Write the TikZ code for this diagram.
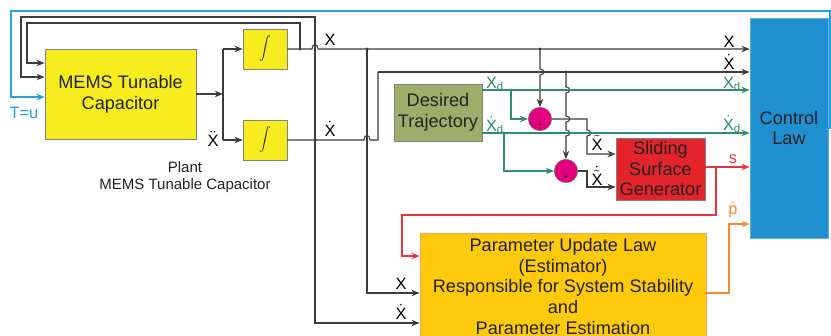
\documentclass[tikz,border=0pt]{standalone}
\usepackage{fontspec}
\setmainfont{Liberation Sans}
\setsansfont{Liberation Sans}
\usetikzlibrary{arrows.meta}
\definecolor{memsy}{RGB}{246,236,30}
\definecolor{olive}{RGB}{157,174,106}
\definecolor{slred}{RGB}{228,35,43}
\definecolor{paramy}{RGB}{255,201,12}
\definecolor{ctrlb}{RGB}{31,143,208}
\definecolor{teal}{RGB}{46,140,118}
\definecolor{fbblue}{RGB}{40,160,220}
\definecolor{redl}{RGB}{232,52,56}
\definecolor{orl}{RGB}{246,140,48}
\definecolor{summ}{RGB}{226,0,126}
\definecolor{lgray}{RGB}{60,60,60}
\definecolor{bord}{RGB}{130,130,130}
\definecolor{txt}{RGB}{35,35,35}
\begin{document}
\begin{tikzpicture}[x=0.03cm,y=-0.03cm,
  box/.style={draw=bord, line width=0.6pt, inner sep=0pt, align=center, text=txt, font=\fontsize{15.5}{18}\selectfont},
  ln/.style={line width=0.9pt, draw=lgray},
  tl/.style={line width=0.9pt, draw=teal},
  rd/.style={line width=0.9pt, draw=redl},
  orr/.style={line width=0.9pt, draw=orl},
  bl/.style={line width=0.9pt, draw=fbblue},
  arr/.style={-{Stealth[length=7pt,width=5.5pt]}},
  lbl/.style={font=\fontsize{14}{16}\selectfont, inner sep=0pt},
  jdot/.style={circle, fill=lgray, inner sep=0pt, minimum size=2.6pt},
  sumnode/.style={circle, draw=lgray!70, fill=summ, line width=0.5pt, minimum size=0.7cm, inner sep=0pt},
  sgn/.style={font=\fontsize{7}{8}\selectfont, inner sep=0pt, text=txt}]
\clip (0,0) rectangle (831,336);
\fill[white] (0,0) rectangle (831,336);

% boxes
\node[box, fill=memsy, minimum width=4.53cm, minimum height=2.7cm] (mems) at (120.5,94) {MEMS Tunable\\Capacitor};
\node[box, fill=memsy, minimum width=1.32cm, minimum height=1.2cm, font=\fontsize{15}{18}\selectfont] (int1) at (265,49) {$\displaystyle\int$};
\node[box, fill=memsy, minimum width=1.32cm, minimum height=1.2cm, font=\fontsize{15}{18}\selectfont] (int2) at (265,140) {$\displaystyle\int$};
\node[box, fill=olive, minimum width=2.64cm, minimum height=1.71cm] (desired) at (438,112.5) {Desired\\Trajectory};
\node[box, fill=slred, minimum width=2.67cm, minimum height=1.86cm, font=\fontsize{15.5}{17.5}\selectfont] (sliding) at (660.5,169) {Sliding\\Surface\\Generator};
\node[box, draw=orl!80, fill=paramy, minimum width=8.58cm, minimum height=3.21cm, font=\fontsize{15.5}{17.8}\selectfont] (param) at (563,286.5) {Parameter Update Law\\(Estimator)\\Responsible for System Stability\\and\\Parameter Estimation};
\node[box, draw=ctrlb!70, fill=ctrlb, minimum width=2.34cm, minimum height=6.6cm, font=\fontsize{15.5}{17.5}\selectfont] (ctrl) at (789,128) {Control\\Law};
\node[sumnode] (sum1) at (540,119) {};
\node[sumnode] (sum2) at (566,171) {};
\node[sgn] at ([yshift=-0.18cm]sum1.center) {+};
\node[sgn] at ([xshift=-0.22cm]sum1.center) {-};
\node[sgn] at ([yshift=-0.18cm]sum2.center) {+};
\node[sgn] at ([xshift=-0.22cm]sum2.center) {-};

% named points
\coordinate (jm) at (223,94);
\coordinate (ja) at (223,49);
\coordinate (jb) at (223,140);
\coordinate (fb1) at (27,63);
\coordinate (fb2) at (21,77);
\coordinate (mb) at (11,97);
\coordinate (xk) at (300,49);
\coordinate (xdj) at (315,140);
\coordinate (xp) at (367,49);
\coordinate (pin1) at (367,293);
\coordinate (pin2) at (315,323);
\coordinate (xdk) at (378,72);
\coordinate (xs) at (540,49);
\coordinate (xds) at (566,72);
\coordinate (xdc) at (482,90);
\coordinate (xddc) at (482,133);
\coordinate (bx1) at (511,90);
\coordinate (bx2) at (504,133);
\coordinate (xt1) at (587,154);
\coordinate (xt2) at (587,187);
\coordinate (sc) at (705,167);
\coordinate (sb) at (716,167);
\coordinate (pr) at (402,256);
\coordinate (po) at (706,293);
\coordinate (pc) at (729,224);
\coordinate (cb) at (828,128);

% plant internals
\draw[ln,arr] (mems.east) -- (jm);
\draw[ln] (ja) -- (jb);
\draw[ln,arr] (ja) -- (int1.west);
\draw[ln,arr] (jb) -- (int2.west);

% X line
\draw[ln,arr] (int1.east) -- (312,49) .. controls (312,43) and (318,43) .. (318,49) -- (ctrl.west |- xs);
% Xdot line
\draw[ln] (int2.east) -- (364,140) .. controls (364,134) and (370,134) .. (370,140) -- (378,140) -- (xdk);
\draw[ln,arr] (xdk) -- (ctrl.west |- xdk);
% feedbacks
\draw[ln,arr] (xk) -- (300,23) -- (27,23) -- (fb1) -- (mems.west |- fb1);
\draw[ln,arr] (xdj) -- (315,17) -- (21,17) -- (fb2) -- (mems.west |- fb2);
\draw[ln,arr] (xdj) -- (pin2) -- (param.west |- pin2);
\draw[ln,arr] (xp) -- (pin1) -- (param.west |- pin1);
% to summing junctions
\draw[ln,arr] (xs) -- (540,69) .. controls (545,69) and (545,75) .. (540,75) -- (sum1.north);
\draw[ln,arr] (xds) -- (566,87) .. controls (571,87) and (571,93) .. (566,93) -- (566,116) .. controls (571,116) and (571,122) .. (566,122) -- (566,130) .. controls (571,130) and (571,136) .. (566,136) -- (sum2.north);
\draw[ln,arr] (sum1.east) -- (587,119) -- (587,130) .. controls (592,130) and (592,136) .. (587,136) -- (xt1) -- (sliding.west |- xt1);
\draw[ln,arr] (sum2.east) -- (587,171) -- (xt2) -- (sliding.west |- xt2);

% desired trajectory outputs
\draw[tl,arr] (desired.east |- xdc) -- (ctrl.west |- xdc);
\draw[tl,arr] (desired.east |- xddc) -- (ctrl.west |- xddc);
\draw[tl,arr] (bx1) -- (511,119) -- (sum1.west);
\draw[tl,arr] (bx2) -- (504,171) -- (sum2.west);

% sliding surface output
\draw[rd,arr] (sliding.east |- sc) -- (ctrl.west |- sc);
\draw[rd,arr] (sb) -- (716,215) -- (402,215) -- (pr) -- (param.west |- pr);
% estimator output
\draw[orr,arr] (param.east |- po) -- (729,293) -- (pc) -- (ctrl.west |- pc);
% control output
\draw[bl,arr] (ctrl.east |- cb) -- (830,128) -- (830,11) -- (11,11) -- (mb) -- (mems.west |- mb);

% junction dots
\foreach \p in {xk,xdj,xp,xs,xds} \node[jdot] at (\p) {};
\node[jdot, fill=teal] at (bx1) {};
\node[jdot, fill=teal] at (bx2) {};

% labels
\node[lbl, text=fbblue] at (24,113) {T=u};
\node[lbl] at (213,139) {$\ddot{\mathsf{X}}$};
\node[lbl] at (330,40) {$\mathsf{X}$};
\node[lbl] at (330,129) {$\dot{\mathsf{X}}$};
\node[align=center, text=txt, font=\fontsize{12.8}{15}\selectfont] at (185,177) {Plant\\MEMS Tunable Capacitor};
\node[lbl, text=teal] at (495,84) {$\mathsf{X}_{\mathsf{d}}$};
\node[lbl, text=teal] at (495,125) {$\dot{\mathsf{X}}_{\mathsf{d}}$};
\node[lbl] at (597,143) {$\tilde{\mathsf{X}}$};
\node[lbl] at (597,176) {$\dot{\tilde{\mathsf{X}}}$};
\node[lbl] at (729,42) {$\mathsf{X}$};
\node[lbl] at (729,62) {$\dot{\mathsf{X}}$};
\node[lbl, text=teal] at (732,84) {$\mathsf{X}_{\mathsf{d}}$};
\node[lbl, text=teal] at (732,124) {$\dot{\mathsf{X}}_{\mathsf{d}}$};
\node[lbl, text=redl] at (733,159) {s};
\node[lbl, text=orl] at (733,210) {$\hat{\mathsf{p}}$};
\node[lbl] at (401,284) {$\mathsf{X}$};
\node[lbl] at (401,312) {$\dot{\mathsf{X}}$};
\end{tikzpicture}
\end{document}
